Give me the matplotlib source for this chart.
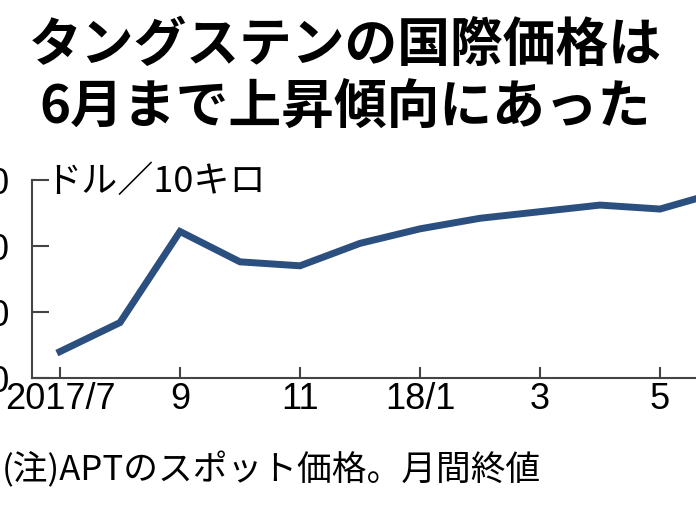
import matplotlib
matplotlib.use("Agg")
import matplotlib.pyplot as plt

plt.rcParams['font.family'] = ['Noto Sans CJK JP', 'DejaVu Sans']

months = list(range(12))
prices = [220, 242, 311, 288, 285, 302, 313, 321, 326, 331, 328, 341]
xtick_pos = [0, 2, 4, 6, 8, 10]
xtick_labels = ['2017/7', '9', '11', '18/1', '3', '5']
ytick_vals = [200, 250, 300, 350]

W, H = 696, 522
fig = plt.figure(figsize=(W/100, H/100), dpi=100)
x0, x1, yb, yt = 32, 696, 378, 180
ax = fig.add_axes([x0/W, (H-yb)/H, (x1-x0)/W, (yb-yt)/H])
ax.plot(months, prices, color='#2b4f7e', lw=5, solid_joinstyle='miter')
ax.set_xlim(-28/60, (696-60)/60)
ax.set_ylim(200, 350)
for s in ['top', 'right']:
    ax.spines[s].set_visible(False)
for s in ['left', 'bottom']:
    ax.spines[s].set_color('#444444')
    ax.spines[s].set_linewidth(1.5)
ax.set_xticks(xtick_pos)
ax.set_xticklabels(xtick_labels, fontsize=26, family='Liberation Sans')
ax.set_yticks(ytick_vals)
ax.set_yticklabels([str(v) for v in ytick_vals], fontsize=26, family='Liberation Sans')
ax.tick_params(axis='x', direction='in', length=8, width=1.5, color='#444444', pad=3)
ax.tick_params(axis='y', direction='in', length=12, width=1.5, color='#444444', pad=16)

fig.text(345/W, 1-45/H, 'タングステンの国際価格は', fontsize=38, fontweight='bold',
         ha='center', va='center')
fig.text(345/W, 1-108/H, '6月まで上昇傾向にあった', fontsize=38, fontweight='bold',
         ha='center', va='center')
fig.text(45/W, 1-182/H, 'ドル／10キロ', fontsize=26, ha='left', va='center')
fig.text(2/W, 1-470/H, '(注)APTのスポット価格。月間終値', fontsize=25, ha='left', va='center')

fig.savefig('out.png', dpi=100)
